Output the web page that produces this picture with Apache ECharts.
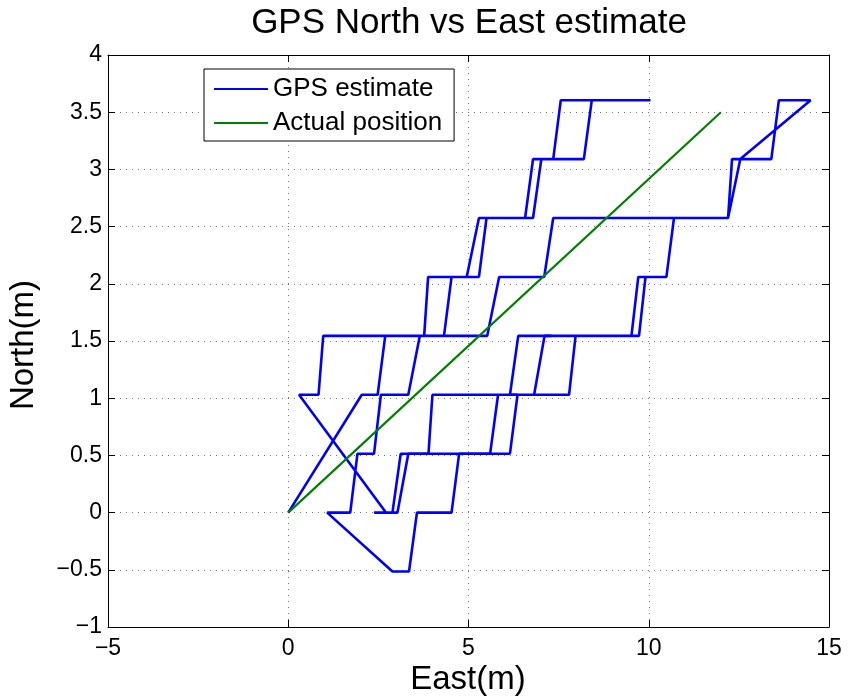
<!DOCTYPE html>
<html>
<head>
<meta charset="utf-8">
<script src="https://cdn.jsdelivr.net/npm/echarts@6/dist/echarts.min.js"></script>
<style>
  html, body { margin: 0; padding: 0; background: #fff; }
  #main { width: 849px; height: 698px; }
</style>
</head>
<body>
<div id="main"></div>
<script>
// GPS estimate (East, North) in metres
const gpsPassA = [
    [0, 0], [2.04, 1.03], [2.48, 1.03], [2.69, 1.545], [3.77, 1.545], [3.88, 2.06],
    [4.95, 2.06], [5.29, 2.575], [6.57, 2.575], [6.79, 3.09], [7.35, 3.09], [7.56, 3.605],
    [10.05, 3.605], [8.42, 3.605], [8.20, 3.09], [7.02, 3.09], [6.79, 2.575], [5.50, 2.575],
    [5.29, 2.06], [4.53, 2.06], [4.32, 1.545], [0.97, 1.545], [0.84, 1.03], [0.30, 1.03],
    [2.71, 0], [2.38, 0], [2.89, 0], [3.12, 0.515], [3.89, 0.515], [4.00, 1.03],
    [6.82, 1.03], [7.11, 1.545], [9.52, 1.545], [9.71, 2.06], [10.49, 2.06], [10.70, 2.575],
    [12.20, 2.575], [12.31, 3.09], [13.40, 3.09], [13.61, 3.605], [14.49, 3.605], [12.54, 3.09],
    [12.20, 2.575], [7.35, 2.575], [7.10, 2.06], [5.85, 2.06], [5.52, 1.545], [3.65, 1.545],
    [3.33, 1.03], [2.57, 1.03], [2.38, 0.515], [1.92, 0.515], [1.72, 0], [1.08, 0],
    [2.89, -0.515], [3.35, -0.515], [3.57, 0], [4.53, 0], [4.74, 0.515], [5.60, 0.515],
    [5.82, 1.03], [7.79, 1.03], [7.97, 1.545], [9.73, 1.545], [9.91, 2.06], [10.30, 2.06]
];
const gpsPassB = [
    [2.89, 0], [3.03, 0], [3.33, 0.515], [6.15, 0.515], [6.36, 1.03], [6.15, 1.03],
    [6.38, 1.545], [7.30, 1.545]
];
// actual position: straight line
const actualEast = [0, 12];
const actualNorth = [0, 3.5];

const axisFont = 'Liberation Sans, Arial, Helvetica, sans-serif';
const minusFmt = function (v) { return String(v).replace('-', '\u2212'); };

const boxAxis = {
    axisLine: { show: true, onZero: false, lineStyle: { color: '#000', width: 1 } },
    axisTick: { show: true, inside: true, length: 7, lineStyle: { color: '#000' } },
    axisLabel: { show: false },
    splitLine: { show: false }
};

const option = {
    animation: false,
    backgroundColor: '#fff',
    grid: { left: 108, right: 20, top: 55, bottom: 71, containLabel: false },
    legend: {
        orient: 'vertical',
        left: 204,
        top: 69,
        padding: [7, 12, 5, 10],
        itemGap: 8,
        itemWidth: 54,
        itemHeight: 2,
        icon: 'rect',
        backgroundColor: '#fff',
        borderColor: '#000',
        borderWidth: 1,
        borderRadius: 0,
        textStyle: { fontSize: 26, color: '#000', fontFamily: axisFont },
        data: ['GPS estimate', 'Actual position']
    },
    xAxis: [
        {
            type: 'value', min: -5, max: 15, interval: 5,
            axisLine: { show: true, onZero: false, lineStyle: { color: '#000', width: 1 } },
            axisTick: { show: true, inside: true, length: 7, lineStyle: { color: '#000' } },
            axisLabel: { fontSize: 23, color: '#000', fontFamily: axisFont, margin: 10, formatter: minusFmt },
            splitLine: { show: true, lineStyle: { color: '#777', type: [1, 5], width: 1 } }
        },
        Object.assign({ type: 'value', min: -5, max: 15, interval: 5, position: 'top' }, boxAxis)
    ],
    yAxis: [
        {
            type: 'value', min: -1, max: 4, interval: 0.5,
            axisLine: { show: true, onZero: false, lineStyle: { color: '#000', width: 1 } },
            axisTick: { show: true, inside: true, length: 7, lineStyle: { color: '#000' } },
            axisLabel: { fontSize: 23, color: '#000', fontFamily: axisFont, margin: 6, formatter: minusFmt },
            splitLine: { show: true, lineStyle: { color: '#777', type: [1, 5], width: 1 } }
        },
        Object.assign({ type: 'value', min: -1, max: 4, interval: 0.5, position: 'right' }, boxAxis)
    ],
    graphic: [
        {
            type: 'text', x: 469, y: 23,
            style: { text: 'GPS North vs East estimate', font: '35px ' + axisFont, fill: '#000', textAlign: 'center', textVerticalAlign: 'middle' }
        },
        {
            type: 'text', x: 468, y: 680,
            style: { text: 'East(m)', font: '33px ' + axisFont, fill: '#000', textAlign: 'center', textVerticalAlign: 'middle' }
        },
        {
            type: 'text', x: 24, y: 345, rotation: Math.PI / 2,
            style: { text: 'North(m)', font: '33px ' + axisFont, fill: '#000', textAlign: 'center', textVerticalAlign: 'middle' }
        }
    ],
    series: [
        {
            name: 'GPS estimate', type: 'line', symbol: 'none', showSymbol: false,
            lineStyle: { color: '#0000ff', width: 2.6 }, itemStyle: { color: '#0000ff' },
            data: gpsPassA
        },
        {
            name: 'GPS estimate', type: 'line', symbol: 'none', showSymbol: false,
            lineStyle: { color: '#0000ff', width: 2.6 }, itemStyle: { color: '#0000ff' },
            data: gpsPassB
        },
        {
            name: 'Actual position', type: 'line', symbol: 'none', showSymbol: false,
            lineStyle: { color: '#008000', width: 2.2 }, itemStyle: { color: '#008000' },
            data: actualEast.map(function (e, i) { return [e, actualNorth[i]]; })
        }
    ]
};

const chart = echarts.init(document.getElementById('main'), null, { renderer: 'canvas' });
chart.setOption(option);
</script>
</body>
</html>
